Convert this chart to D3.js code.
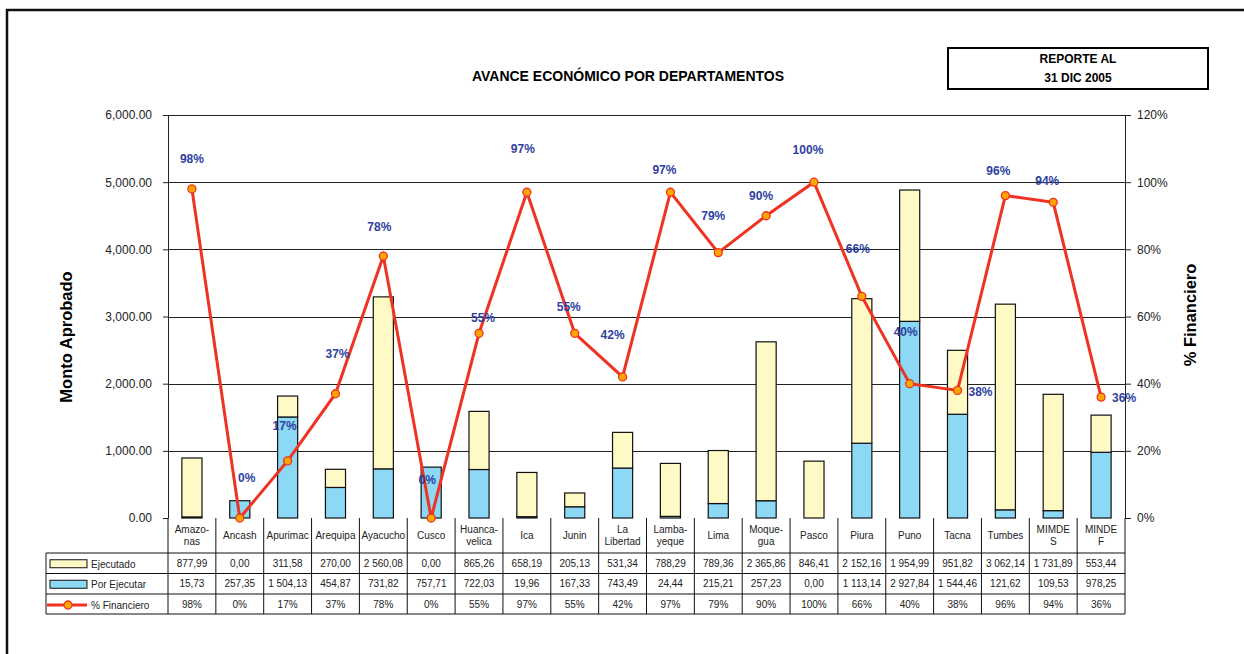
<!DOCTYPE html>
<html>
<head>
<meta charset="utf-8">
<script src="https://cdn.jsdelivr.net/npm/d3@7"></script>
<style>
  body { margin: 0; background: #fff; }
  svg { display: block; font-family: "Liberation Sans", Arial, sans-serif; }
</style>
</head>
<body>
<svg id="chart" width="1244" height="654"></svg>
<script>
// categories (header lines in the table)
const departamentos = [
  ['Amazo-', 'nas'], ['Ancash'], ['Apurimac'], ['Arequipa'], ['Ayacucho'], ['Cusco'],
  ['Huanca-', 'velica'], ['Ica'], ['Junin'], ['La', 'Libertad'], ['Lamba-', 'yeque'],
  ['Lima'], ['Moque-', 'gua'], ['Pasco'], ['Piura'], ['Puno'], ['Tacna'], ['Tumbes'],
  ['MIMDE', 'S'], ['MINDE', 'F']
];
const ejecutado = [877.99, 0.00, 311.58, 270.00, 2560.08, 0.00, 865.26, 658.19, 205.13, 531.34,
  788.29, 789.36, 2365.86, 846.41, 2152.16, 1954.99, 951.82, 3062.14, 1731.89, 553.44];
const porEjecutar = [15.73, 257.35, 1504.13, 454.87, 731.82, 757.71, 722.03, 19.96, 167.33, 743.49,
  24.44, 215.21, 257.23, 0.00, 1113.14, 2927.84, 1544.46, 121.62, 109.53, 978.25];
const financiero = [0.98, 0.00, 0.17, 0.37, 0.78, 0.00, 0.55, 0.97, 0.55, 0.42,
  0.97, 0.79, 0.90, 1.00, 0.66, 0.40, 0.38, 0.96, 0.94, 0.36];
const montoTicks = [0, 1000, 2000, 3000, 4000, 5000, 6000];
const pctTicks = [0, 0.2, 0.4, 0.6, 0.8, 1.0, 1.2];

// manual nudges of the % labels (as placed in the original sheet)
const labelNudge = [
  [0, -30], [7, -40], [-3, -35], [2, -40], [-4, -29], [-4, -38], [4, -15], [-4, -43],
  [-6, -26], [-10, -42], [-6, -22], [-5, -37], [-5, -20], [-6, -32], [-4, -48], [-4, -52],
  [23, 1], [-7, -25], [-6, -22], [23, 1]
];

const svg = d3.select('#chart');
const plot = { left: 168, right: 1125, top: 115, bottom: 518 };
const colors = { ejec: '#fff9c6', porEjec: '#8dd8f5', line: '#ee3322', marker: '#ffa500', label: '#2e3fa0' };

const locale = d3.formatLocale({ decimal: ',', thousands: '\u00a0', grouping: [3] });
const fmtNum = locale.format(',.2f');
const fmtPct = d3.format('.0%');

const idx = d3.range(departamentos.length);
const x = d3.scaleBand()
  .domain(idx)
  .range([plot.left, plot.right])
  .paddingInner(0.58)
  .paddingOuter(0.29);
const cx = i => x(i) + x.bandwidth() / 2;
const step = x.step();

const yL = d3.scaleLinear().domain([0, 6000]).range([plot.bottom, plot.top]);
const yR = d3.scaleLinear().domain([0, 1.2]).range([plot.bottom, plot.top]);

// outer frame
svg.append('rect')
  .attr('x', 7).attr('y', 10).attr('width', 1300).attr('height', 700)
  .attr('fill', 'none').attr('stroke', '#111').attr('stroke-width', 2.5);

// title and report box
svg.append('text')
  .attr('x', 628).attr('y', 81)
  .attr('text-anchor', 'middle')
  .attr('font-size', 14).attr('font-weight', 'bold')
  .text('AVANCE ECONÓMICO POR DEPARTAMENTOS');
svg.append('rect')
  .attr('x', 948).attr('y', 48).attr('width', 260).attr('height', 41)
  .attr('fill', 'none').attr('stroke', '#000').attr('stroke-width', 2);
svg.append('text')
  .attr('x', 1078).attr('y', 63).attr('text-anchor', 'middle')
  .attr('font-size', 12).attr('font-weight', 'bold').text('REPORTE AL');
svg.append('text')
  .attr('x', 1078).attr('y', 82).attr('text-anchor', 'middle')
  .attr('font-size', 12).attr('font-weight', 'bold').text('31 DIC 2005');

// gridlines
svg.append('g')
  .selectAll('line')
  .data(montoTicks.slice(1))
  .join('line')
  .attr('x1', plot.left).attr('x2', plot.right)
  .attr('y1', d => Math.round(yL(d)) + 0.5).attr('y2', d => Math.round(yL(d)) + 0.5)
  .attr('stroke', '#222').attr('stroke-width', 1);

// axes
const axisL = svg.append('g')
  .attr('transform', `translate(${plot.left},0)`)
  .call(d3.axisLeft(yL).tickValues(montoTicks).tickFormat(d3.format(',.2f')).tickSizeInner(5).tickSizeOuter(0).tickPadding(11));
const axisR = svg.append('g')
  .attr('transform', `translate(${plot.right},0)`)
  .call(d3.axisRight(yR).tickValues(pctTicks).tickFormat(d3.format('.0%')).tickSizeInner(6).tickSizeOuter(0).tickPadding(6));
[axisL, axisR].forEach(a => {
  a.select('.domain').attr('stroke', '#222');
  a.selectAll('.tick line').attr('stroke', '#222');
  a.selectAll('.tick text')
    .attr('font-size', 12)
    .attr('font-family', '"Liberation Sans", Arial, sans-serif')
    .attr('fill', '#222');
});

// axis titles
svg.append('text')
  .attr('transform', 'translate(72,337) rotate(-90)')
  .attr('text-anchor', 'middle')
  .attr('font-size', 16.5).attr('font-weight', 'bold')
  .text('Monto Aprobado');
svg.append('text')
  .attr('transform', 'translate(1196,315) rotate(-90)')
  .attr('text-anchor', 'middle')
  .attr('font-size', 16.5).attr('font-weight', 'bold')
  .text('% Financiero');

// stacked bars: Por Ejecutar at bottom, Ejecutado on top
const bars = svg.append('g');
bars.selectAll('rect.por')
  .data(idx)
  .join('rect')
  .attr('class', 'por')
  .attr('x', i => x(i)).attr('width', x.bandwidth())
  .attr('y', i => yL(porEjecutar[i]))
  .attr('height', i => yL(0) - yL(porEjecutar[i]))
  .attr('fill', colors.porEjec).attr('stroke', '#111').attr('stroke-width', 1.2);
bars.selectAll('rect.ejec')
  .data(idx.filter(i => ejecutado[i] > 0))
  .join('rect')
  .attr('class', 'ejec')
  .attr('x', i => x(i)).attr('width', x.bandwidth())
  .attr('y', i => yL(porEjecutar[i] + ejecutado[i]))
  .attr('height', i => yL(porEjecutar[i]) - yL(porEjecutar[i] + ejecutado[i]))
  .attr('fill', colors.ejec).attr('stroke', '#111').attr('stroke-width', 1.2);

// % Financiero line
const line = d3.line()
  .x(i => cx(i))
  .y(i => yR(financiero[i]));
svg.append('path')
  .datum(idx)
  .attr('d', line)
  .attr('fill', 'none')
  .attr('stroke', colors.line)
  .attr('stroke-width', 3)
  .attr('stroke-linejoin', 'miter');
svg.append('g')
  .selectAll('circle')
  .data(idx)
  .join('circle')
  .attr('cx', i => cx(i)).attr('cy', i => yR(financiero[i]))
  .attr('r', 4)
  .attr('fill', colors.marker).attr('stroke', colors.line).attr('stroke-width', 1.3);
svg.append('g')
  .selectAll('text')
  .data(idx)
  .join('text')
  .attr('x', i => cx(i) + labelNudge[i][0])
  .attr('y', i => yR(financiero[i]) + labelNudge[i][1])
  .attr('dy', '0.35em')
  .attr('text-anchor', 'middle')
  .attr('font-size', 12).attr('font-weight', 'bold')
  .attr('fill', colors.label)
  .text(i => fmtPct(financiero[i]));

// data table
const table = svg.append('g').attr('font-size', 10).attr('fill', '#222');
const tableLeft = 46;
const rowY = [553, 573.5, 594, 614];
const headTop = plot.bottom;

// horizontal rules
table.selectAll('line.h')
  .data(rowY)
  .join('line')
  .attr('class', 'h')
  .attr('x1', tableLeft).attr('x2', plot.right)
  .attr('y1', d => d).attr('y2', d => d)
  .attr('stroke', '#111');
// vertical rules
table.selectAll('line.v')
  .data(d3.range(departamentos.length + 1))
  .join('line')
  .attr('class', 'v')
  .attr('x1', j => plot.left + j * step).attr('x2', j => plot.left + j * step)
  .attr('y1', headTop).attr('y2', rowY[3])
  .attr('stroke', '#111');
table.append('line')
  .attr('x1', tableLeft).attr('x2', tableLeft)
  .attr('y1', rowY[0]).attr('y2', rowY[3])
  .attr('stroke', '#111');

// header labels
const head = table.selectAll('text.head')
  .data(idx)
  .join('text')
  .attr('class', 'head')
  .attr('text-anchor', 'middle')
  .attr('x', i => cx(i));
head.each(function (i) {
  const lines = departamentos[i];
  const t = d3.select(this);
  const mid = (headTop + rowY[0]) / 2;
  lines.forEach((s, k) => {
    t.append('tspan')
      .attr('x', cx(i))
      .attr('y', mid + (k - (lines.length - 1) / 2) * 12.5)
      .attr('dy', '0.35em')
      .text(s);
  });
});

// value rows
const rows = [
  { name: 'Ejecutado', values: ejecutado.map(fmtNum) },
  { name: 'Por Ejecutar', values: porEjecutar.map(fmtNum) },
  { name: '% Financiero', values: financiero.map(fmtPct) }
];
rows.forEach((r, k) => {
  const mid = (rowY[k] + rowY[k + 1]) / 2;
  table.selectAll(null)
    .data(r.values)
    .join('text')
    .attr('x', (d, i) => cx(i))
    .attr('y', mid)
    .attr('dy', '0.35em')
    .attr('text-anchor', 'middle')
    .text(d => d);
  table.append('text')
    .attr('x', 91).attr('y', mid + 1)
    .attr('dy', '0.35em')
    .text(r.name);
});

// legend keys
const keyMid = k => (rowY[k] + rowY[k + 1]) / 2;
table.append('rect')
  .attr('x', 50).attr('y', keyMid(0) - 3.5).attr('width', 37).attr('height', 8)
  .attr('fill', colors.ejec).attr('stroke', '#111');
table.append('rect')
  .attr('x', 50).attr('y', keyMid(1) - 3.5).attr('width', 37).attr('height', 8)
  .attr('fill', colors.porEjec).attr('stroke', '#111');
table.append('line')
  .attr('x1', tableLeft + 1).attr('x2', 87)
  .attr('y1', keyMid(2) + 1).attr('y2', keyMid(2) + 1)
  .attr('stroke', colors.line).attr('stroke-width', 3);
table.append('circle')
  .attr('cx', 68).attr('cy', keyMid(2) + 1).attr('r', 4)
  .attr('fill', colors.marker).attr('stroke', colors.line).attr('stroke-width', 1.3);
</script>
</body>
</html>
